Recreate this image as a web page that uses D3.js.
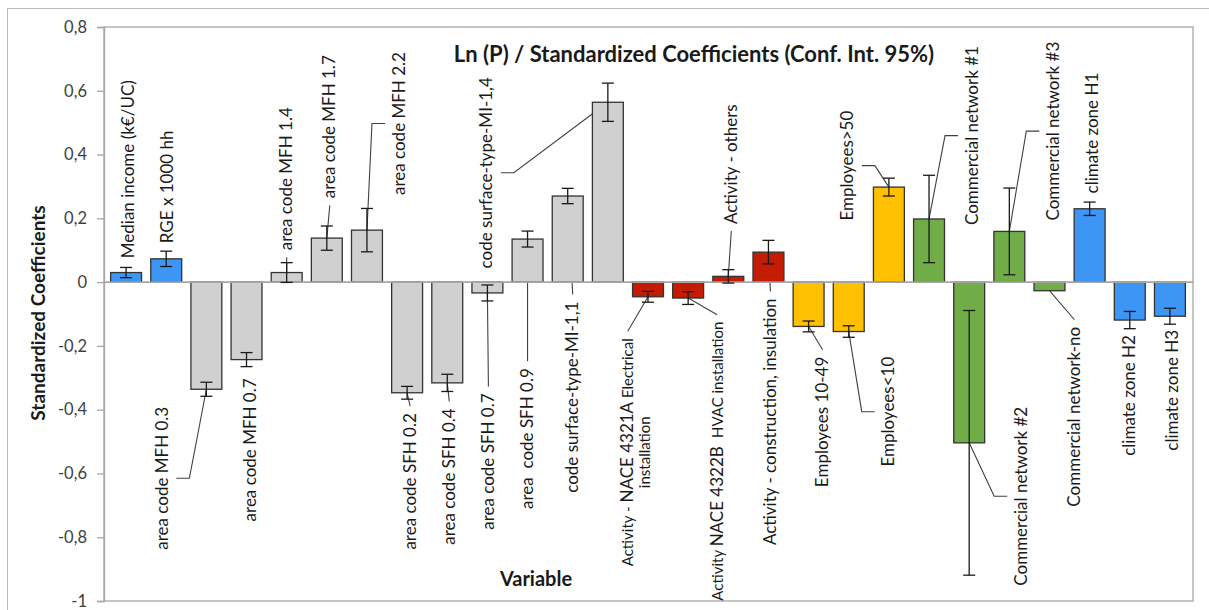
<!DOCTYPE html>
<html>
<head>
<meta charset="utf-8">
<script src="https://cdn.jsdelivr.net/npm/d3@7"></script>
<style>
  body { margin: 0; background: #fff; }
  svg text { font-family: Lato, "Open Sans", sans-serif; white-space: pre; }
</style>
</head>
<body>
<div id="chart"></div>
<script>
// values
const categories = [
  "Median income (k€/UC)", "RGE x 1000 hh",
  "area code MFH 0.3", "area code MFH 0.7", "area code MFH 1.4", "area code MFH 1.7", "area code MFH 2.2",
  "area code SFH 0.2", "area code SFH 0.4", "area code SFH 0.7", "area  code SFH 0.9",
  "code surface-type-MI-1,1", "code surface-type-MI-1,4",
  "Activity - NACE 4321A Electrical installation", "Activity NACE 4322B HVAC installation",
  "Activity - others", "Activity - construction, insulation",
  "Employees 10-49", "Employees<10", "Employees>50",
  "Commercial network #1", "Commercial network #2", "Commercial network #3", "Commercial network-no",
  "climate zone H1", "climate zone H2", "climate zone H3"
];
const coefficients = [
  0.030, 0.073,
  -0.336, -0.243, 0.030, 0.138, 0.163,
  -0.347, -0.316, -0.034, 0.135,
  0.270, 0.564,
  -0.046, -0.050,
  0.018, 0.094,
  -0.139, -0.155, 0.298,
  0.198, -0.504, 0.159, -0.027,
  0.230, -0.119, -0.107
];
const confInt = [
  0.016, 0.024,
  0.022, 0.022, 0.031, 0.038, 0.068,
  0.020, 0.027, 0.025, 0.025,
  0.024, 0.060,
  0.017, 0.020,
  0.021, 0.037,
  0.017, 0.018, 0.028,
  0.137, 0.415, 0.136, 0,
  0.021, 0.027, 0.025
];
const groups = [
  "location", "location",
  "area", "area", "area", "area", "area",
  "area", "area", "area", "area",
  "area", "area",
  "activity", "activity", "activity", "activity",
  "size", "size", "size",
  "network", "network", "network", "network",
  "location", "location", "location"
];
const yTicks = [0.8, 0.6, 0.4, 0.2, 0, -0.2, -0.4, -0.6, -0.8, -1];

// label placement (moved data labels, like in the spreadsheet): dx px from bar centre,
// at = value where the near end of the label sits, leader = none | end | mid
const labelPlace = [
  { dx: 2, at: 0.075, leader: "none" },
  { dx: 1, at: 0.122, leader: "none" },
  { dx: -44, at: -0.391, leader: "mid" },
  { dx: 4, at: -0.302, leader: "none" },
  { dx: 0, at: 0.100, leader: "end" },
  { dx: 3, at: 0.263, leader: "end" },
  { dx: 32, at: 0.273, leader: "mid" },
  { dx: 3, at: -0.411, leader: "end" },
  { dx: 2, at: -0.396, leader: "end" },
  { dx: 1, at: -0.349, leader: "end" },
  { dx: 0, at: -0.270, leader: "end" },
  { dx: 5, at: -0.061, leader: "end" },
  { dx: -121, at: 0.043, leader: "mid" },
  { dx: -12, at: -0.176, leader: "end" },
  { dx: 29, at: -0.124, leader: "end" },
  { dx: 3, at: 0.182, leader: "end" },
  { dx: 2, at: -0.051, leader: "end" },
  { dx: 14, at: -0.234, leader: "end" },
  { dx: 40, at: -0.234, leader: "mid" },
  { dx: -41, at: 0.193, leader: "mid" },
  { dx: 43, at: 0.179, leader: "mid" },
  { dx: 52, at: -0.391, leader: "mid" },
  { dx: 44, at: 0.193, leader: "mid" },
  { dx: 25, at: -0.140, leader: "end" },
  { dx: 3, at: 0.278, leader: "none" },
  { dx: 0, at: -0.166, leader: "none" },
  { dx: 2, at: -0.150, leader: "none" }
];

// the two NACE labels mix small and normal text and one wraps to two lines
const richLabels = {
  13: [[["Activity - ", true], ["NACE 4321A", false], [" Electrical", true]], [["installation", true]]],
  14: [[["Activity ", true], ["NACE 4322B ", false], [" HVAC installation", true]]]
};

const colors = {
  location: "#3d95f4",
  area: "#d0d0d0",
  activity: "#c41c02",
  size: "#ffc000",
  network: "#70ad47"
};

const width = 1209, height = 610;
const plot = { left: 104, right: 1193, top: 27, bottom: 601 };

const svg = d3.select("#chart").append("svg")
  .attr("width", width)
  .attr("height", height);

// chart area frame
svg.append("rect")
  .attr("x", 7.5).attr("y", 8.5)
  .attr("width", 1220).attr("height", 620)
  .attr("fill", "none")
  .attr("stroke", "#bcbcbc")
  .attr("stroke-width", 1);

const y = d3.scaleLinear().domain([-1, 0.8]).range([plot.bottom, plot.top]);
const x = d3.scaleBand()
  .domain(d3.range(categories.length))
  .range([106, 1190])
  .paddingInner(0.23)
  .paddingOuter(0.115);

// plot frame
svg.append("rect")
  .attr("x", plot.left).attr("y", plot.top)
  .attr("width", plot.right - plot.left).attr("height", plot.bottom - plot.top)
  .attr("fill", "none")
  .attr("stroke", "#a6a6a6")
  .attr("stroke-width", 1.3);

// y axis
const fmt = d => d === 0 ? "0" : String(+d.toFixed(1)).replace(".", ",");
const yAxis = svg.append("g")
  .attr("transform", `translate(${plot.left},0)`)
  .call(d3.axisLeft(y).tickValues(yTicks).tickFormat(fmt).tickSize(7).tickPadding(10));
yAxis.select(".domain").attr("stroke", "#a6a6a6").attr("stroke-width", 1.3);
yAxis.selectAll(".tick line").attr("stroke", "#a6a6a6").attr("stroke-width", 1.3);
yAxis.selectAll(".tick text")
  .attr("fill", "#404040")
  .style("font-size", "16.5px");

const data = categories.map((c, i) => ({
  i: i, name: c, value: coefficients[i], ci: confInt[i], group: groups[i], place: labelPlace[i]
}));
const cx = d => x(d.i) + x.bandwidth() / 2;

// leader lines go under the bars' error bars
const leaderG = svg.append("g");

// bars
svg.append("g").selectAll("rect")
  .data(data)
  .enter()
  .append("rect")
  .attr("x", d => x(d.i))
  .attr("width", x.bandwidth())
  .attr("y", d => y(Math.max(0, d.value)))
  .attr("height", d => Math.abs(y(d.value) - y(0)))
  .attr("fill", d => colors[d.group])
  .attr("stroke", "#333")
  .attr("stroke-width", 1.3);

// zero line
svg.append("line")
  .attr("x1", plot.left).attr("x2", plot.right)
  .attr("y1", y(0)).attr("y2", y(0))
  .attr("stroke", "#a6a6a6")
  .attr("stroke-width", 1.6);

// error bars (95% confidence interval)
const err = svg.append("g")
  .attr("stroke", "#1a1a1a")
  .attr("stroke-width", 1.3)
  .selectAll("g")
  .data(data.filter(d => d.ci > 0))
  .enter()
  .append("g");
err.append("line")
  .attr("x1", cx).attr("x2", cx)
  .attr("y1", d => y(d.value + d.ci)).attr("y2", d => y(d.value - d.ci));
err.append("line")
  .attr("x1", d => cx(d) - 6).attr("x2", d => cx(d) + 6)
  .attr("y1", d => y(d.value + d.ci)).attr("y2", d => y(d.value + d.ci));
err.append("line")
  .attr("x1", d => cx(d) - 6).attr("x2", d => cx(d) + 6)
  .attr("y1", d => y(d.value - d.ci)).attr("y2", d => y(d.value - d.ci));

// data labels (category names), rotated
const labelSize = 17, smallSize = 15, lineGap = 16.5;
const labelG = svg.append("g").attr("fill", "#1a1a1a");

data.forEach(d => {
  const lines = richLabels[d.i] || [[[d.name, false]]];
  const lx = cx(d) + d.place.dx;
  const above = d.place.at > 0;
  const g = labelG.append("g");
  const texts = lines.map((parts, li) => {
    const t = g.append("text")
      .attr("text-anchor", "middle")
      .attr("y", (li - (lines.length - 1) / 2) * lineGap)
      .attr("dy", "0.35em");
    parts.forEach(p => {
      t.append("tspan")
        .style("font-size", (p[1] ? smallSize : labelSize) + "px")
        .text(p[0]);
    });
    return t;
  });
  const len = d3.max(texts, t => t.node().getComputedTextLength());
  const near = y(d.place.at);
  const mid = above ? near - len / 2 : near + len / 2;
  g.attr("transform", `translate(${lx},${mid}) rotate(-90)`);

  const x0 = cx(d), y0 = y(d.value);
  if (d.place.leader === "end") {
    const firstX = lx + (0 - (lines.length - 1) / 2) * lineGap;
    const ye = above ? near + 7 : near - 7;
    leaderG.append("path")
      .attr("d", d3.line()([[x0, y0], [firstX, ye]]))
      .attr("fill", "none").attr("stroke", "#404040").attr("stroke-width", 1.1);
  } else if (d.place.leader === "mid") {
    const side = d.place.dx < 0 ? 1 : -1; // label left of bar -> leader attaches right side
    const edge = lx + side * 7;
    const stubEnd = edge + side * 7;
    const kink = stubEnd + side * 13;
    leaderG.append("path")
      .attr("d", d3.line()([[x0, y0], [kink, mid], [stubEnd, mid]]))
      .attr("fill", "none").attr("stroke", "#404040").attr("stroke-width", 1.1);
  }
});

// titles
svg.append("text")
  .attr("x", 694).attr("y", 62)
  .attr("text-anchor", "middle")
  .style("font-size", "22px").style("font-weight", "bold")
  .attr("fill", "#1a1a1a")
  .text("Ln (P) / Standardized Coefficients (Conf. Int. 95%)");

svg.append("text")
  .attr("transform", "translate(38,313) rotate(-90)")
  .attr("text-anchor", "middle")
  .attr("dy", "0.35em")
  .style("font-size", "19px").style("font-weight", "bold")
  .attr("fill", "#1a1a1a")
  .text("Standardized Coefficients");

svg.append("text")
  .attr("x", 536).attr("y", 586)
  .attr("text-anchor", "middle")
  .style("font-size", "20px").style("font-weight", "bold")
  .attr("fill", "#1a1a1a")
  .text("Variable");
</script>
</body>
</html>
